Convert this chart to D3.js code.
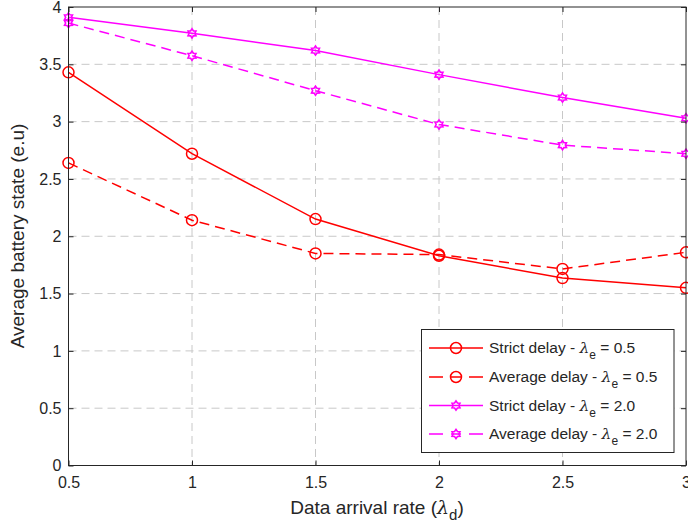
<!DOCTYPE html>
<html><head><meta charset="utf-8">
<script src="https://cdn.jsdelivr.net/npm/d3@7"></script>
<style>body{margin:0;background:#fff}svg{display:block;font-family:"Liberation Sans",Arial,sans-serif}</style>
</head><body><svg id="c" width="688" height="524"></svg>
<script>
const xValues = [0.5, 1, 1.5, 2, 2.5, 3];
const strict05 = [3.43, 2.72, 2.15, 1.83, 1.635, 1.55];
const avg05 = [2.64, 2.14, 1.85, 1.84, 1.715, 1.86];
const strict20 = [3.91, 3.77, 3.62, 3.41, 3.21, 3.03];
const avg20 = [3.86, 3.575, 3.27, 2.975, 2.795, 2.72];
const xTicks = [0.5, 1, 1.5, 2, 2.5, 3];
const yTicks = [0, 0.5, 1, 1.5, 2, 2.5, 3, 3.5, 4];
const seriesNames = ["Strict delay - ", "Average delay - ", "Strict delay - ", "Average delay - "];
const seriesLam = ["0.5", "0.5", "2.0", "2.0"];

const svg = d3.select("#c");
const L = 68.5, R = 686, T = 7, B = 465.5;
const x = d3.scaleLinear().domain([0.5, 3]).range([L, R]);
const y = d3.scaleLinear().domain([0, 4]).range([B, T]);
const axisCol = "#262626";

// grid
const g = svg.append("g");
g.selectAll(".gx").data(xTicks.slice(1, -1)).enter().append("line")
  .attr("x1", d => x(d)).attr("x2", d => x(d)).attr("y1", T).attr("y2", B)
  .attr("stroke", "#c8c8c8").attr("stroke-width", 1).attr("stroke-dasharray", "8,5");
g.selectAll(".gy").data(yTicks.slice(1, -1)).enter().append("line")
  .attr("y1", d => y(d)).attr("y2", d => y(d)).attr("x1", L).attr("x2", R)
  .attr("stroke", "#c8c8c8").attr("stroke-width", 1).attr("stroke-dasharray", "8,5");

const hexagram = {
  draw(ctx, size) {
    const r = Math.sqrt(size) * 0.62;
    const ri = r * 0.62;
    for (let i = 0; i < 12; i++) {
      const a = -Math.PI / 2 + i * Math.PI / 6;
      const rr = i % 2 === 0 ? r : ri;
      const px = rr * Math.cos(a), py = rr * Math.sin(a);
      if (i === 0) ctx.moveTo(px, py); else ctx.lineTo(px, py);
    }
    ctx.closePath();
  }
};

const series = [
  {vals: strict05, color: "#ff0000", dash: null, marker: "circle"},
  {vals: avg05, color: "#ff0000", dash: "10,6", marker: "circle"},
  {vals: strict20, color: "#ff00ff", dash: null, marker: "hex"},
  {vals: avg20, color: "#ff00ff", dash: "10,6", marker: "hex"}
];
const line = d3.line().x((d, i) => x(xValues[i])).y(d => y(d));

function drawMarker(sel, s, cx, cy) {
  if (s.marker === "circle") {
    sel.append("circle").attr("cx", cx).attr("cy", cy).attr("r", 5.5)
      .attr("fill", "none").attr("stroke", s.color).attr("stroke-width", 1.5);
  } else {
    sel.append("path").attr("d", d3.symbol().type(hexagram).size(55)())
      .attr("transform", `translate(${cx},${cy})`)
      .attr("fill", "none").attr("stroke", s.color).attr("stroke-width", 1.6);
  }
}

series.forEach(s => {
  const gs = svg.append("g");
  gs.append("path").datum(s.vals).attr("d", line).attr("fill", "none")
    .attr("stroke", s.color).attr("stroke-width", 1.5)
    .attr("stroke-dasharray", s.dash);
  s.vals.forEach((v, i) => drawMarker(gs, s, x(xValues[i]), y(v)));
});

// axes box
svg.append("rect").attr("x", L).attr("y", T).attr("width", R - L).attr("height", B - T)
  .attr("fill", "none").attr("stroke", axisCol).attr("stroke-width", 1);

const xa = svg.append("g").attr("transform", `translate(0,${B})`)
  .call(d3.axisBottom(x).tickValues(xTicks).tickFormat(d3.format("")).tickSizeInner(-5).tickSizeOuter(0).tickPadding(11));
const xt = svg.append("g").attr("transform", `translate(0,${T})`)
  .call(d3.axisTop(x).tickValues(xTicks).tickFormat("").tickSizeInner(-5).tickSizeOuter(0));
const ya = svg.append("g").attr("transform", `translate(${L},0)`)
  .call(d3.axisLeft(y).tickValues(yTicks).tickFormat(d3.format("")).tickSizeInner(-5).tickSizeOuter(0).tickPadding(7));
const yr = svg.append("g").attr("transform", `translate(${R},0)`)
  .call(d3.axisRight(y).tickValues(yTicks).tickFormat("").tickSizeInner(-5).tickSizeOuter(0));
[xa, xt, ya, yr].forEach(a => {
  a.select(".domain").remove();
  a.selectAll("line").attr("stroke", axisCol);
  a.selectAll("text").attr("fill", axisCol).style("font-size", "16px").style("font-family", "Liberation Sans, Arial, sans-serif");
});

// axis labels
const xl = svg.append("text").attr("x", 377).attr("y", 514).attr("text-anchor", "middle")
  .attr("fill", axisCol).style("font-size", "19px");
xl.append("tspan").text("Data arrival rate (");
xl.append("tspan").text("λ").style("font-family", "DejaVu Serif, serif").style("font-style", "italic");
xl.append("tspan").text("d").attr("dy", 6).style("font-size", "15px");
xl.append("tspan").text(")").attr("dy", -6);

svg.append("text").attr("transform", "translate(24,236) rotate(-90)").attr("text-anchor", "middle")
  .attr("fill", axisCol).style("font-size", "19px").text("Average battery state (e.u)");

// legend
const lg = svg.append("g");
lg.append("rect").attr("x", 421.5).attr("y", 329.5).attr("width", 252.5).attr("height", 123)
  .attr("fill", "#fff").attr("stroke", axisCol).attr("stroke-width", 1);
const rowY = [348, 377, 405.5, 434];
series.forEach((s, i) => {
  const ry = rowY[i];
  lg.append("line").attr("x1", 429).attr("x2", 483).attr("y1", ry).attr("y2", ry)
    .attr("stroke", s.color).attr("stroke-width", 1.5).attr("stroke-dasharray", s.dash ? "14,8,10,8" : null);
  drawMarker(lg, s, 456, ry);
  const t = lg.append("text").attr("x", 489).attr("y", ry + 5).attr("fill", axisCol).style("font-size", "15.5px");
  t.append("tspan").text(seriesNames[i]);
  t.append("tspan").text("λ").style("font-family", "DejaVu Serif, serif").style("font-style", "italic");
  t.append("tspan").text("e").attr("dy", 6).style("font-size", "12px");
  t.append("tspan").text(" = " + seriesLam[i]).attr("dy", -6);
});
</script></body></html>
